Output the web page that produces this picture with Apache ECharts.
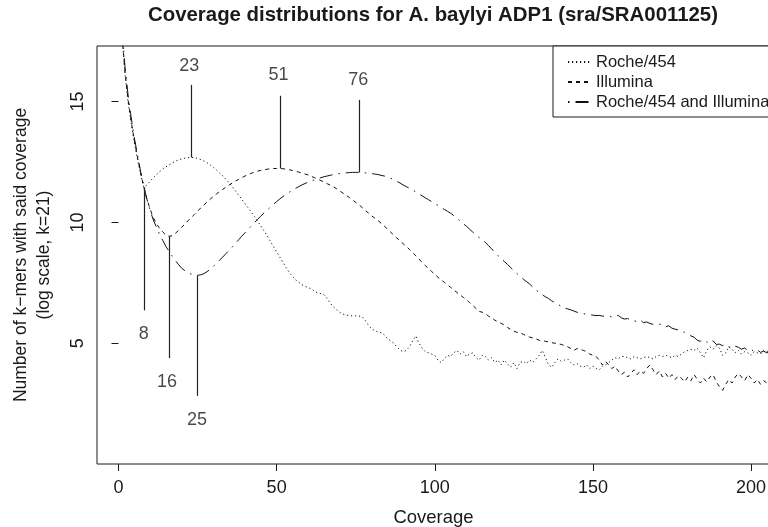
<!DOCTYPE html>
<html>
<head>
<meta charset="utf-8">
<script src="https://cdn.jsdelivr.net/npm/echarts@6/dist/echarts.min.js"></script>
<style>
html,body{margin:0;padding:0;background:#fff;}
#c{width:768px;height:527px;}
</style>
</head>
<body>
<div id="c"></div>
<script>
// ---- data (coverage = 1, 2, 3, ...) ----
const coverageStart = 1;
const roche454 = [
 17.9,16.2,15.0,14.1,13.3,12.6,12.0,11.45,11.55,11.7,
 11.85,11.98,12.1,12.2,12.3,12.38,12.46,12.53,12.59,12.63,
 12.66,12.68,12.69,12.68,12.65,12.6,12.54,12.47,12.38,12.28,
 12.17,12.05,11.92,11.78,11.63,11.47,11.3,11.13,10.95,10.77,
 10.6,10.42,10.24,10.05,9.85,9.65,9.45,9.22,9.0,8.78,
 8.56,8.35,8.13,7.93,7.77,7.62,7.52,7.42,7.35,7.3,
 7.25,7.15,7.08,7.05,7.0,6.85,6.65,6.5,6.38,6.27,
 6.2,6.17,6.14,6.13,6.13,6.12,6.1,5.95,5.75,5.6,
 5.52,5.47,5.44,5.35,5.2,5.1,5.0,4.85,4.72,4.65,
 4.7,4.85,5.1,5.3,5.0,4.8,4.65,4.6,4.55,4.5,
 4.3,4.2,4.35,4.5,4.45,4.6,4.7,4.55,4.65,4.45,
 4.55,4.6,4.4,4.3,4.5,4.45,4.3,4.4,4.2,4.3,
 4.1,4.3,4.15,4.0,4.2,3.95,4.2,4.25,4.15,4.3,
 4.2,4.35,4.5,4.7,4.4,4.1,4.0,4.2,4.35,4.25,
 4.3,4.35,4.2,4.1,4.15,4.05,4.0,4.1,3.95,4.05,
 3.95,3.9,4.05,4.1,4.2,4.3,4.4,4.35,4.45,4.45,
 4.4,4.35,4.45,4.4,4.35,4.4,4.45,4.4,4.35,4.45,
 4.5,4.45,4.5,4.45,4.4,4.5,4.45,4.55,4.65,4.7,
 4.75,4.7,4.8,4.6,4.4,4.7,4.85,4.75,4.9,4.8,
 4.5,4.6,4.85,4.75,4.6,4.7,4.55,4.65,4.6,4.5,
 4.65,4.6,4.55,4.7,4.65,4.7
];
const illumina = [
 18.0,16.3,15.1,14.2,13.4,12.7,12.05,11.45,10.95,10.55,
 10.2,9.95,9.75,9.6,9.48,9.42,9.45,9.55,9.67,9.8,
 9.93,10.07,10.2,10.33,10.46,10.6,10.72,10.84,10.96,11.07,
 11.18,11.28,11.37,11.46,11.55,11.63,11.71,11.78,11.85,11.92,
 11.98,12.03,12.08,12.12,12.15,12.18,12.2,12.22,12.23,12.23,
 12.23,12.22,12.2,12.18,12.15,12.12,12.08,12.04,12.0,11.96,
 11.9,11.85,11.79,11.73,11.67,11.6,11.54,11.47,11.39,11.3,
 11.21,11.12,11.03,10.93,10.83,10.73,10.62,10.5,10.39,10.27,
 10.18,10.08,9.97,9.85,9.73,9.6,9.48,9.35,9.24,9.12,
 9.0,8.88,8.75,8.62,8.48,8.35,8.22,8.08,7.97,7.85,
 7.73,7.62,7.52,7.42,7.31,7.2,7.1,7.0,6.9,6.8,
 6.68,6.57,6.44,6.32,6.28,6.22,6.12,6.05,5.95,5.88,
 5.82,5.75,5.65,5.57,5.5,5.45,5.42,5.37,5.3,5.25,
 5.22,5.18,5.12,5.1,5.08,5.05,5.02,5.0,4.97,4.95,
 4.9,4.85,4.78,4.7,4.78,4.75,4.7,4.65,4.55,4.5,
 4.45,4.3,4.1,4.25,4.1,3.95,4.05,3.85,3.7,3.8,
 3.6,3.75,3.9,3.7,3.85,3.75,3.95,4.1,3.9,3.7,
 3.85,3.6,3.75,3.55,3.7,3.5,3.65,3.55,3.4,3.6,
 3.45,3.7,3.5,3.35,3.55,3.4,3.6,3.7,3.4,3.2,
 3.05,3.3,3.5,3.35,3.6,3.75,3.6,3.45,3.7,3.55,
 3.35,3.5,3.3,3.45,3.35,3.4
];
const rocheAndIllumina = [
 18.2,16.5,15.3,14.35,13.5,12.8,12.1,11.5,10.95,10.5,
 10.1,9.8,9.5,9.25,9.0,8.8,8.6,8.42,8.25,8.1,
 8.0,7.92,7.86,7.82,7.81,7.83,7.88,7.96,8.06,8.18,
 8.31,8.44,8.57,8.71,8.85,8.98,9.13,9.28,9.43,9.57,
 9.71,9.85,9.99,10.13,10.26,10.39,10.51,10.63,10.75,10.86,
 10.97,11.07,11.16,11.25,11.33,11.41,11.48,11.55,11.61,11.67,
 11.72,11.77,11.81,11.85,11.89,11.92,11.95,11.98,12.0,12.02,
 12.04,12.05,12.06,12.07,12.07,12.07,12.06,12.05,12.04,12.02,
 12.0,11.98,11.95,11.92,11.88,11.83,11.77,11.7,11.63,11.55,
 11.48,11.41,11.34,11.26,11.18,11.1,11.02,10.94,10.86,10.78,
 10.7,10.62,10.54,10.46,10.38,10.28,10.17,10.06,9.95,9.84,
 9.72,9.6,9.48,9.38,9.28,9.17,9.04,8.9,8.76,8.62,
 8.5,8.38,8.26,8.13,8.0,7.88,7.77,7.65,7.55,7.45,
 7.32,7.2,7.1,7.0,6.92,6.85,6.75,6.68,6.6,6.53,
 6.45,6.42,6.38,6.33,6.28,6.25,6.22,6.2,6.18,6.16,
 6.14,6.15,6.12,6.13,6.12,6.08,6.12,6.15,6.05,6.0,
 6.02,5.95,5.92,5.9,5.96,5.85,5.88,5.82,5.78,5.8,
 5.79,5.75,5.68,5.72,5.62,5.58,5.55,5.5,5.45,5.38,
 5.3,5.25,5.12,5.08,5.15,5.05,5.0,5.1,4.95,4.96,
 4.9,4.95,4.85,4.8,4.88,4.83,4.75,4.8,4.7,4.75,
 4.65,4.72,4.62,4.67,4.6,4.65
];
const seriesNames = ['Roche/454', 'Illumina', 'Roche/454 and Illumina'];
const xTicks = [0, 50, 100, 150, 200];
const yTicks = [5, 10, 15];
// annotations: coverage of extremum, segment start/end, label position (y, log scale), label text
const annX      = [8, 16, 25, 23, 51, 76];
const annFrom   = [11.45, 9.42, 7.81, 12.69, 12.23, 12.07];
const annTo     = [6.36, 4.38, 2.82, 15.69, 15.24, 15.07];
const annLabelX = [8, 15.3, 24.8, 22.4, 50.6, 75.8];
const annLabelY = [5.37, 3.39, 1.8, 16.48, 16.11, 15.9];
const annText   = ['8', '16', '25', '23', '51', '76'];

// ---- build ----
function pairs(arr){ return arr.map((v,i)=>[coverageStart+i, v]); }
const FONT = 'Liberation Sans, Arial, Helvetica, sans-serif';
const INK = '#1a1a1a';
const dashes = [[1.2, 2.8], [4, 4], [1.5, 6, 13, 6]];
const values = [roche454, illumina, rocheAndIllumina];

const lineSeries = seriesNames.map((name, k) => ({
  name, type: 'line', data: pairs(values[k]),
  symbol: 'none', showSymbol: false, clip: true, silent: true,
  lineStyle: { color: '#111', width: 1, type: dashes[k], cap: 'butt' },
  itemStyle: { color: '#111' }
}));

const segSeries = {
  type: 'line', data: [], symbol: 'none', silent: true,
  markLine: {
    silent: true, symbol: ['none', 'none'], animation: false,
    label: { show: false },
    lineStyle: { color: '#222', width: 1.2, type: 'solid' },
    data: annX.map((x, i) => [{ coord: [x, annFrom[i]] }, { coord: [x, annTo[i]] }])
  }
};
const labelSeries = {
  type: 'scatter', silent: true, symbolSize: 0,
  itemStyle: { color: 'rgba(0,0,0,0)' },
  data: annX.map((x, i) => ({ value: [annLabelX[i], annLabelY[i]], name: annText[i] })),
  label: { show: true, position: 'inside', formatter: p => p.name,
           color: INK, fontSize: 18, fontFamily: FONT }
};

const chart = echarts.init(document.getElementById('c'), null, { renderer: 'canvas' });
chart.setOption({
  animation: false,
  backgroundColor: '#fff',
  title: {
    text: 'Coverage distributions for A. baylyi ADP1 (sra/SRA001125)',
    left: 428, top: 0, textAlign: 'center',
    textStyle: { fontFamily: FONT, fontSize: 20.4, fontWeight: 'bold', color: INK }
  },
  legend: {
    data: seriesNames, orient: 'vertical', left: 553, top: 46,
    padding: [7.5, 4, 6.5, 14], itemWidth: 23, itemHeight: 14, itemGap: 3, itemTextGap: 5,
    borderColor: INK, borderWidth: 1, backgroundColor: '#fff',
    itemStyle: { opacity: 0 },
    textStyle: { fontFamily: FONT, fontSize: 16.5, color: INK },
    selectedMode: false
  },
  grid: { left: 97, top: 46, right: -2, bottom: 63, show: true, borderColor: INK, borderWidth: 1,
          containLabel: false, outerBoundsMode: 'none' },
  xAxis: {
    type: 'value', min: -6.8, max: 206,
    name: 'Coverage', nameLocation: 'middle', nameGap: 44,
    nameTextStyle: { fontFamily: FONT, fontSize: 18.5, color: INK },
    axisLine: { show: false },
    axisTick: { show: true, length: 7, customValues: xTicks, lineStyle: { color: INK } },
    axisLabel: { customValues: xTicks, margin: 15, fontFamily: FONT, fontSize: 18, color: INK },
    splitLine: { show: false }
  },
  yAxis: {
    type: 'value', min: 0, max: 17.3,
    name: 'Number of k\u2212mers with said coverage\n(log scale, k=21)',
    nameLocation: 'middle', nameGap: 41, nameRotate: 90,
    nameTextStyle: { fontFamily: FONT, fontSize: 17.5, color: INK, lineHeight: 23 },
    axisLine: { show: false },
    axisTick: { show: true, length: 7, customValues: yTicks, lineStyle: { color: INK } },
    axisLabel: { customValues: yTicks, rotate: 90, margin: 10, fontFamily: FONT, fontSize: 18, color: INK },
    splitLine: { show: false }
  },
  series: [...lineSeries, segSeries, labelSeries]
});
</script>
</body>
</html>
